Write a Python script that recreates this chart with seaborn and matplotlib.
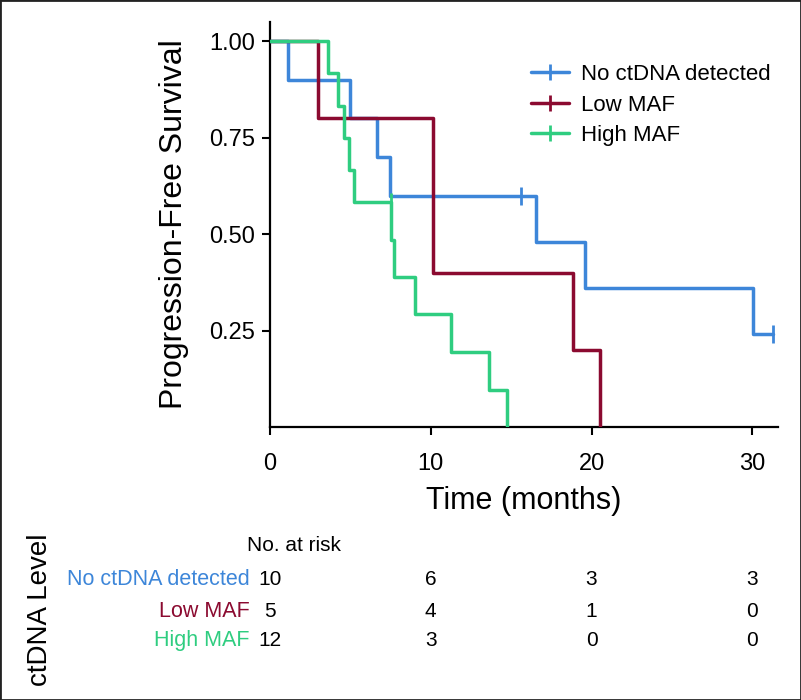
import matplotlib
matplotlib.use('Agg')
import matplotlib.pyplot as plt
import seaborn as sns
import pandas as pd
from matplotlib.lines import Line2D
from matplotlib.patches import Rectangle

sns.set_style('white')
plt.rcParams['font.family'] = ['Liberation Sans', 'DejaVu Sans']
plt.rcParams['text.color'] = 'black'
plt.rcParams['xtick.color'] = 'black'
plt.rcParams['ytick.color'] = 'black'
plt.rcParams['axes.labelcolor'] = 'black'

# survival curves (step times in months, survival after each step)
groups = ['No ctDNA detected', 'Low MAF', 'High MAF']
colors = ['#3d86d9', '#8b0a30', '#2fcd80']

none_t = [0, 1.1, 5.0, 6.65, 7.45, 16.55, 19.6, 30.05, 31.3]
none_s = [1.0, 0.9, 0.8, 0.7, 0.6, 0.48, 0.36, 0.24, 0.24]
none_cens_t = [15.6, 31.3]
none_cens_s = [0.6, 0.24]

low_t = [0, 3.0, 10.15, 18.85, 20.5]
low_s = [1.0, 0.8, 0.4, 0.2, 0.0]
low_cens_t = []
low_cens_s = []

high_t = [0, 3.6, 4.2, 4.6, 4.9, 5.25, 7.5, 7.7, 9.0, 11.25, 13.6, 14.75]
high_s = [1.0, 0.917, 0.833, 0.75, 0.667, 0.583, 0.486, 0.389, 0.292, 0.194, 0.097, 0.0]
high_cens_t = [7.55]
high_cens_s = [0.583]

# number at risk table
risk_times = [0, 10, 20, 30]
risk_none = [10, 6, 3, 3]
risk_low = [5, 4, 1, 0]
risk_high = [12, 3, 0, 0]

curves = [(none_t, none_s, none_cens_t, none_cens_s),
          (low_t, low_s, low_cens_t, low_cens_s),
          (high_t, high_s, high_cens_t, high_cens_s)]
risks = [risk_none, risk_low, risk_high]

fig = plt.figure(figsize=(8.01, 7.0), dpi=100)
ax = fig.add_axes([270 / 801, 1 - 427 / 700, 508 / 801, 405 / 700])

for g, c, (t, s, ct, cs) in zip(groups, colors, curves):
    df = pd.DataFrame({'time': t, 'surv': s})
    sns.lineplot(data=df, x='time', y='surv', ax=ax, color=c, lw=2.5,
                 drawstyle='steps-post', estimator=None, sort=False, zorder=3)
    if ct:
        ax.plot(ct, cs, ls='none', marker='|', ms=13, mew=2, color=c, zorder=4)

ax.set_xlim(0, 31.6)
ax.set_ylim(0, 1.05)
ax.set_xticks([0, 10, 20, 30])
ax.set_yticks([0.25, 0.5, 0.75, 1.0])
ax.set_yticklabels(['0.25', '0.50', '0.75', '1.00'])
ax.tick_params(axis='both', labelsize=17, length=6, width=1.5, pad=5,
               bottom=True, left=True)
ax.tick_params(axis='x', pad=13)
for side in ['top', 'right']:
    ax.spines[side].set_visible(False)
for side in ['left', 'bottom']:
    ax.spines[side].set_color('black')
    ax.spines[side].set_linewidth(1.6)
ax.set_xlabel('Time (months)', fontsize=22, labelpad=8)
ax.set_ylabel('Progression-Free Survival', fontsize=23, labelpad=14)

handles = [Line2D([0], [0], color=c, lw=2.5, marker='|', ms=11, mew=2) for c in colors]
ax.legend(handles, groups, loc='upper right', bbox_to_anchor=(1.025, 0.945), frameon=False,
          fontsize=16, handlelength=1.7, labelspacing=0.42, handletextpad=0.55)

# risk table
rax = fig.add_axes([270 / 801, 0.02, 508 / 801, 1 - 530 / 700 - 0.02])
rax.set_xlim(0, 31.6)
rax.set_ylim(0, 1)
rax.axis('off')
rax.text(-1.4, 0.90, 'No. at risk', fontsize=15, ha='left', va='center')
row_y = [0.68, 0.475, 0.29]
for g, c, r, y in zip(groups, colors, risks, row_y):
    rax.text(-1.25, y, g, color=c, fontsize=15.5, ha='right', va='center')
    for tt, n in zip(risk_times, r):
        rax.text(tt, y, str(n), fontsize=15, ha='center', va='center')
fig.text(40 / 801, 1 - 610 / 700, 'ctDNA Level', rotation=90, fontsize=20,
         ha='center', va='center')

fig.patches.append(Rectangle((0, 0), 1, 1, transform=fig.transFigure, fill=False,
                             edgecolor='#222222', lw=2))

fig.savefig('out.png', dpi=100)
